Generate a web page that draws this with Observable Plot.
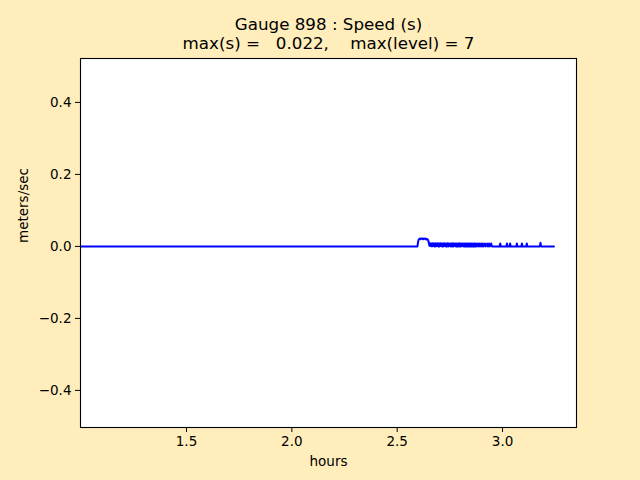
<!DOCTYPE html>
<html>
<head>
<meta charset="utf-8">
<script src="https://cdn.jsdelivr.net/npm/d3@7"></script>
<script src="https://cdn.jsdelivr.net/npm/@observablehq/plot@0.6"></script>
<style>
  html, body { margin: 0; padding: 0; background: #ffedbb; }
  #chart { width: 640px; height: 480px; }
  svg { font-family: "DejaVu Sans", sans-serif; }
</style>
</head>
<body>
<div id="chart"></div>
<script>
const titleLines = ["Gauge 898 : Speed (s)", "max(s) =   0.022,    max(level) = 7"];
const xLabel = "hours";
const yLabel = "meters/sec";
const xTicks = [1.5, 2.0, 2.5, 3.0];
const yTicks = [-0.4, -0.2, 0.0, 0.2, 0.4];

const hours = [
  1.000, 2.596, 2.599, 2.602, 2.605, 2.608, 2.611, 2.614, 2.617, 2.620, 2.623, 2.626, 2.629, 2.632, 2.635, 2.638, 2.641, 2.644, 2.647, 2.650, 2.653,
  2.656, 2.659, 2.662, 2.665, 2.668, 2.671, 2.674, 2.677, 2.680, 2.683, 2.686, 2.689, 2.692, 2.695, 2.698, 2.701, 2.704, 2.707, 2.710, 2.713,
  2.716, 2.719, 2.722, 2.725, 2.728, 2.731, 2.734, 2.737, 2.740, 2.743, 2.746, 2.749, 2.752, 2.755, 2.758, 2.761, 2.764, 2.767, 2.770, 2.773,
  2.776, 2.779, 2.782, 2.785, 2.788, 2.791, 2.794, 2.797, 2.800, 2.803, 2.806, 2.809, 2.812, 2.815, 2.818, 2.821, 2.824, 2.827, 2.830, 2.833,
  2.836, 2.839, 2.842, 2.845, 2.848, 2.851, 2.854, 2.857, 2.860, 2.863, 2.866, 2.869, 2.872, 2.875,
  2.880, 2.884, 2.889, 2.893, 2.898, 2.902, 2.906, 2.910, 2.916, 2.920, 2.927, 2.931, 2.936, 2.940, 2.946, 2.950,
  2.986, 2.989, 2.992, 3.018, 3.021, 3.024, 3.033, 3.036, 3.039, 3.065, 3.068, 3.071, 3.089, 3.092, 3.095,
  3.112, 3.115, 3.118, 3.177, 3.180, 3.183, 3.244
];
const speed = [
  0.000, 0.000, 0.012, 0.019, 0.021, 0.022, 0.020, 0.022, 0.021, 0.022, 0.020, 0.022, 0.021, 0.022, 0.020, 0.021, 0.019, 0.020, 0.017, 0.010, 0.002,
  0.009, 0.001, 0.008, 0.000, 0.009, 0.001, 0.008, 0.000, 0.009, 0.000, 0.008, 0.001, 0.009, 0.000, 0.008, 0.000, 0.009, 0.001, 0.008, 0.000,
  0.008, 0.000, 0.009, 0.001, 0.008, 0.000, 0.008, 0.000, 0.009, 0.000, 0.008, 0.001, 0.008, 0.000, 0.008, 0.000, 0.009, 0.000, 0.008, 0.001,
  0.008, 0.000, 0.008, 0.000, 0.008, 0.000, 0.009, 0.000, 0.008, 0.000, 0.008, 0.001, 0.008, 0.000, 0.008, 0.000, 0.008, 0.000, 0.008, 0.000,
  0.008, 0.000, 0.008, 0.000, 0.008, 0.000, 0.008, 0.000, 0.008, 0.000, 0.008, 0.000, 0.008, 0.000,
  0.008, 0.000, 0.008, 0.000, 0.008, 0.000, 0.008, 0.000, 0.008, 0.000, 0.008, 0.000, 0.008, 0.000, 0.008, 0.000,
  0.000, 0.008, 0.000, 0.000, 0.008, 0.000, 0.000, 0.008, 0.000, 0.000, 0.008, 0.000, 0.000, 0.008, 0.000,
  0.000, 0.008, 0.000, 0.000, 0.010, 0.000, 0.000
];

const data = hours.map((h, i) => ({hours: h, speed: speed[i]}));
const fmt = d3.format(".1f");

const chart = Plot.plot({
  width: 640,
  height: 480,
  marginLeft: 80,
  marginRight: 64,
  marginTop: 58,
  marginBottom: 53,
  style: {background: "#ffedbb", fontSize: "13.5px", fontFamily: "DejaVu Sans, sans-serif", color: "black"},
  x: {domain: [0.997, 3.351], ticks: xTicks, tickFormat: fmt, label: null, tickSize: 5, tickPadding: 4},
  y: {domain: [-0.503, 0.522], ticks: yTicks, tickFormat: fmt, label: null, tickSize: 5, tickPadding: 4},
  marks: [
    Plot.frame({fill: "white", stroke: null}),
    Plot.line(data, {x: "hours", y: "speed", stroke: "#0000ff", strokeWidth: 2}),
    Plot.axisX({ticks: xTicks, tickFormat: fmt, tickSize: 5, tickPadding: 4, label: null, fontSize: 13.5}),
    Plot.axisY({ticks: yTicks, tickFormat: fmt, tickSize: 5, tickPadding: 4, label: null, fontSize: 13.5}),
    Plot.frame({stroke: "black", strokeWidth: 1.1}),
    Plot.text([titleLines[0]], {frameAnchor: "top", dy: -40, fontSize: 16.7, fill: "black"}),
    Plot.text([titleLines[1]], {frameAnchor: "top", dy: -21, fontSize: 16.7, fill: "black"}),
    Plot.text([xLabel], {frameAnchor: "bottom", dy: 38, fontSize: 13.5, fill: "black"}),
    Plot.text([yLabel], {frameAnchor: "left", dx: -57, rotate: -90, fontSize: 13.5, fill: "black"})
  ]
});
document.getElementById("chart").appendChild(chart);
</script>
</body>
</html>
